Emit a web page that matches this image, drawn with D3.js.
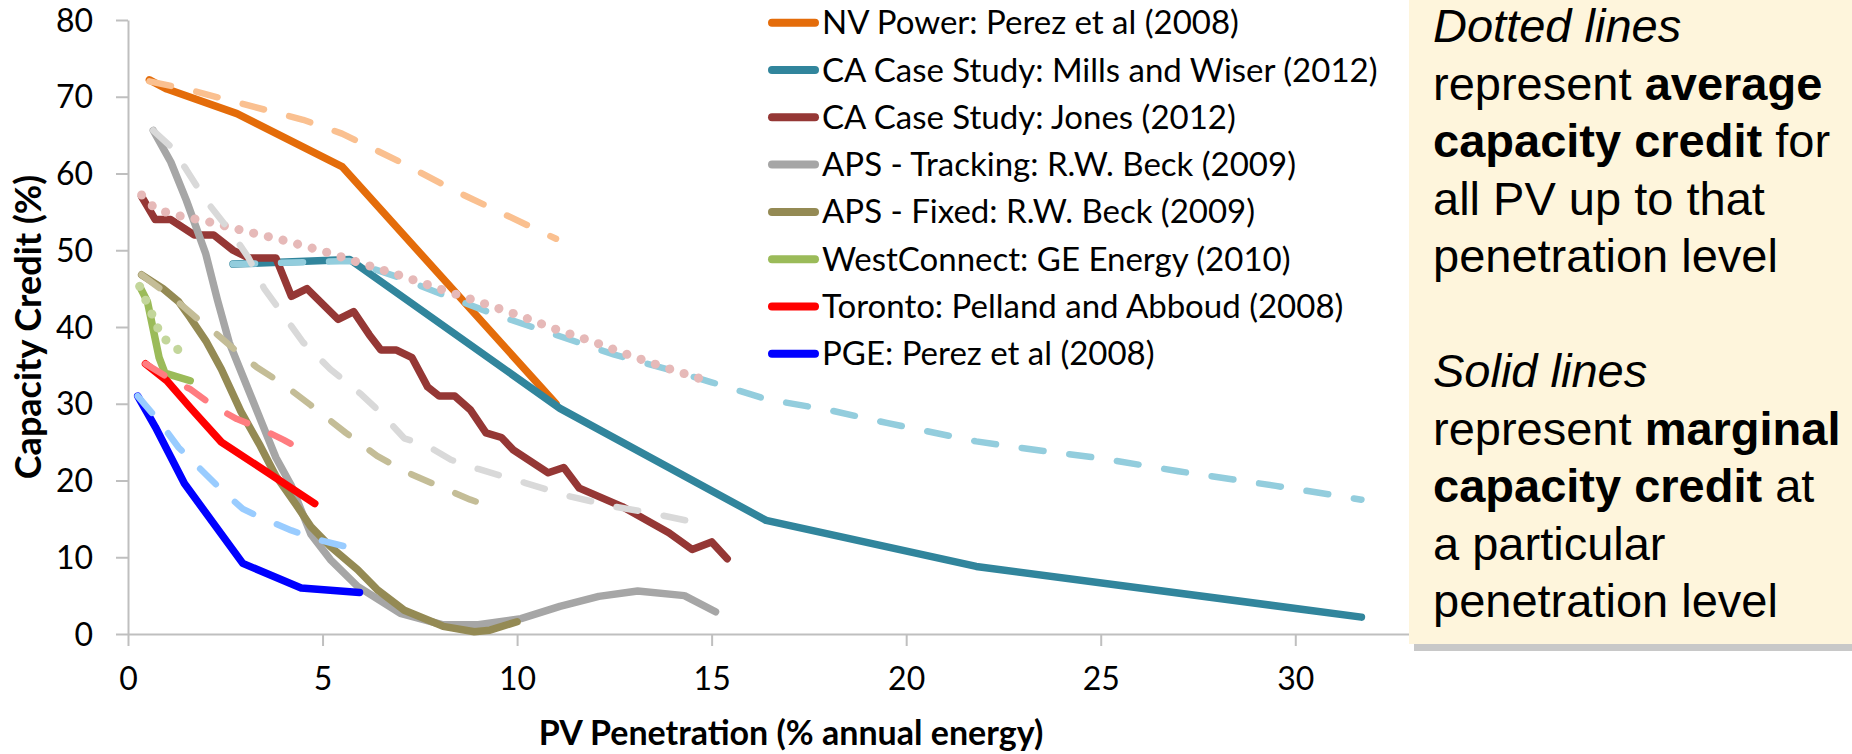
<!DOCTYPE html>
<html>
<head>
<meta charset="utf-8">
<style>
  body { margin: 0; background: #fff; }
  svg { display: block; }
  .tick text { font-family: Lato, "Open Sans", sans-serif; fill: #000; }
  .legend text { font-family: Lato, "Open Sans", sans-serif; fill: #000; }
  .note text { font-family: "Liberation Sans", Arial, sans-serif; fill: #000; }
</style>
</head>
<body>
<div id="chart"></div>
<script src="https://d3js.org/d3.v7.min.js"></script>
<script>
// axis ticks
const xTicks = [0, 5, 10, 15, 20, 25, 30];
const yTicks = [0, 10, 20, 30, 40, 50, 60, 70, 80];

// legend / series names (solid = marginal, dashed/dotted = average)
const names = [
  "NV Power: Perez et al (2008)",
  "CA Case Study: Mills and Wiser (2012)",
  "CA Case Study: Jones (2012)",
  "APS - Tracking: R.W. Beck (2009)",
  "APS - Fixed: R.W. Beck (2009)",
  "WestConnect: GE Energy (2010)",
  "Toronto: Pelland and Abboud (2008)",
  "PGE: Perez et al (2008)"
];
const solidColors = ["#E46C0A", "#31859C", "#953735", "#A6A6A6", "#948A54", "#9BBB59", "#FF0000", "#0000FF"];
const avgColors   = ["#FAC090", "#93CDDD", "#E6B9B8", "#D9D9D9", "#C4BD97", "#C3D69B", "#FF7C80", "#99CCFF"];
const avgStyle    = ["dash", "dash", "dot", "dash", "dash", "dot", "dash", "dash"];

// marginal capacity credit [penetration %, credit %]
const nvMarginal = [[0.55,72.2],[1,71],[2.8,67.8],[5.5,60.9],[11,30]];
const millsMarginal = [[2.7,48.2],[5.7,48.8],[11.1,29.4],[16.4,14.8],[21.8,8.8],[31.7,2.2]];
const jonesMarginal = [[0.35,57],[0.7,54],[1.1,54],[1.7,52],[2.2,52],[2.7,50],[3.1,49],[3.8,49],[4.2,44],[4.6,45],
  [5.4,41],[5.8,42],[6.2,39],[6.5,37],[6.9,37],[7.3,36],[7.7,32.2],[8,31],[8.4,31],[8.8,29.2],[9.2,26.2],[9.6,25.6],
  [9.9,24],[10.8,21],[11.2,21.7],[11.6,19],[12.7,16.6],[13.9,13.2],[14.5,11],[15,12],[15.4,9.8]];
const trackMarginal = [[0.65,65.6],[1.1,61.5],[1.5,56.5],[2,49.5],[2.3,43.5],[2.6,38],[3,33],[3.4,28],[3.8,23],[4.2,19.3],
  [4.7,13],[5.2,9.7],[5.9,6.2],[7,2.7],[8.1,1.2],[9,1.2],[10.1,2],[11.1,3.6],[12.1,4.9],[13.1,5.6],[14.3,5],[15.1,2.9]];
const fixedMarginal = [[0.35,46.8],[0.9,45],[1.3,43.3],[1.6,41.2],[2,38.2],[2.4,34.5],[2.9,29],[3.4,24.5],[3.8,20.6],
  [4.3,17],[4.7,14],[5.2,11.4],[5.9,8.4],[6.4,5.8],[7.1,3.1],[8.1,1],[8.9,0.3],[9.3,0.5],[10,1.6]];
const westMarginal = [[0.3,45.3],[0.5,43.3],[0.8,36],[0.95,34],[1.6,33]];
const torontoMarginal = [[0.45,35.2],[1,33],[1.6,29.5],[2.4,25],[4.8,17]];
const pgeMarginal = [[0.25,31],[0.7,27],[1.45,19.6],[2.95,9.2],[4.45,6],[5.95,5.4]];

// average capacity credit
const nvAverage = [[0.55,72],[1.5,71],[3,69],[4.5,67],[5.5,65.2],[7,61.5],[8.5,57.5],[11,51.5]];
const millsAverage = [[2.7,48.2],[5.7,48.6],[7,46.4],[8.3,43.8],[9.5,41.5],[11.1,38.8],[12.5,36.4],[14,34.3],[15,32.8],
  [16.4,30.6],[18,29.2],[19.5,27.5],[21.8,25.1],[23.3,24],[25,22.9],[27,21.2],[29.5,19.3],[31.7,17.5]];
const jonesAverage = [[0.35,57.2],[0.7,55.4],[1.2,54.6],[2,53.8],[3,52.5],[4,51.3],[5,49.9],[6,48.3],[7,46.7],[8,45],
  [9,43.3],[10,41.6],[11,39.7],[12,38],[13,36.1],[14,34.4],[15,32.8]];
const trackAverage = [[0.65,65.6],[1.1,63.5],[1.5,60.5],[2,56.5],[2.7,52],[3.1,49],[3.5,45],[4,41.5],[4.5,38],[5.2,34.5],
  [6,31.2],[6.5,28.8],[7.1,25.5],[7.7,24.5],[8.3,22.7],[9,21.5],[10.2,19.7],[11.3,18],[12.5,16.6],[13.4,15.8],[14.9,14.2]];
const fixedAverage = [[0.35,46.8],[0.8,45.1],[1.3,43.2],[1.8,41],[2.3,39],[2.8,36.8],[3.3,34.8],[4,32.5],[4.7,29.8],
  [5.6,26.2],[6.4,23.2],[7.2,21],[8.2,18.8],[8.8,17.5],[9.5,16.3]];
const westAverage = [[0.3,45.3],[0.5,43],[0.7,40.7],[0.85,38.8],[1.3,37]];
const torontoAverage = [[0.45,35.2],[1,33.5],[1.6,31.9],[2.2,29.7],[2.8,28],[3.4,26.8],[4,25.3],[4.6,23.6]];
const pgeAverage = [[0.25,31],[0.8,27.7],[1.3,24.3],[1.8,21.8],[2.4,18.8],[2.95,16.3],[3.4,15.2],[4.2,13.5],[4.8,12.4],[5.9,11]];

const marginal = [nvMarginal, millsMarginal, jonesMarginal, trackMarginal, fixedMarginal, westMarginal, torontoMarginal, pgeMarginal];
const average = [nvAverage, millsAverage, jonesAverage, trackAverage, fixedAverage, westAverage, torontoAverage, pgeAverage];

// callout text: each line is a list of [text, style]
const noteLines = [
  [["Dotted lines", "i"]],
  [["represent ", ""], ["average", "b"]],
  [["capacity credit", "b"], [" for", ""]],
  [["all PV up to that", ""]],
  [["penetration level", ""]],
  [],
  [["Solid lines", "i"]],
  [["represent ", ""], ["marginal", "b"]],
  [["capacity credit", "b"], [" at", ""]],
  [["a particular", ""]],
  [["penetration level", ""]]
];

const width = 1852, height = 754;
const axisColor = "#BFBFBF";

const x = d3.scaleLinear().domain([0, 33]).range([128, 1412]);
const y = d3.scaleLinear().domain([0, 80]).range([634, 20]);

const svg = d3.select("#chart").append("svg")
  .attr("width", width)
  .attr("height", height);

// axes
const xAxis = svg.append("g")
  .attr("transform", `translate(0,${y(0)})`)
  .call(d3.axisBottom(x).tickValues(xTicks).tickSize(12).tickSizeOuter(0).tickPadding(21));
const yAxis = svg.append("g")
  .attr("transform", `translate(${x(0)},0)`)
  .call(d3.axisLeft(y).tickValues(yTicks).tickSize(12).tickSizeOuter(0).tickPadding(23));
[xAxis, yAxis].forEach(g => {
  g.select(".domain").attr("stroke", axisColor).attr("stroke-width", 2);
  g.selectAll(".tick line").attr("stroke", axisColor).attr("stroke-width", 2);
  g.selectAll(".tick text").attr("font-size", 32).attr("font-family", null);
});
yAxis.selectAll(".tick text").attr("dy", "0.35em");

svg.append("text")
  .attr("x", 791).attr("y", 745)
  .attr("text-anchor", "middle")
  .attr("font-family", "Lato, sans-serif")
  .attr("font-weight", "bold")
  .attr("font-size", 34)
  .text("PV Penetration (% annual energy)");

svg.append("text")
  .attr("transform", `translate(41,${(y(0) + y(80)) / 2}) rotate(-90)`)
  .attr("text-anchor", "middle")
  .attr("font-family", "Lato, sans-serif")
  .attr("font-weight", "bold")
  .attr("font-size", 36)
  .text("Capacity Credit (%)");

const line = d3.line().x(d => x(d[0])).y(d => y(d[1]));

// solid marginal lines
svg.append("g")
  .selectAll("path")
  .data(marginal)
  .join("path")
    .attr("d", line)
    .attr("fill", "none")
    .attr("stroke", (d, i) => solidColors[i])
    .attr("stroke-width", 7.5)
    .attr("stroke-linejoin", "round")
    .attr("stroke-linecap", "round");

// dashed / dotted average lines
svg.append("g")
  .selectAll("path")
  .data(average)
  .join("path")
    .attr("d", line)
    .attr("fill", "none")
    .attr("stroke", (d, i) => avgColors[i])
    .attr("stroke-width", (d, i) => avgStyle[i] === "dot" ? 9 : 6.5)
    .attr("stroke-dasharray", (d, i) => avgStyle[i] === "dot" ? "0.1 15" : "22 26")
    .attr("stroke-linejoin", "round")
    .attr("stroke-linecap", "round");

// legend
const legend = svg.append("g").attr("class", "legend");
const row = legend.selectAll("g")
  .data(names)
  .join("g")
    .attr("transform", (d, i) => `translate(768,${22.7 + i * 47.3})`);
row.append("line")
  .attr("x1", 4).attr("x2", 47)
  .attr("stroke", (d, i) => solidColors[i])
  .attr("stroke-width", 8)
  .attr("stroke-linecap", "round");
row.append("text")
  .attr("x", 54)
  .attr("dy", "0.35em")
  .attr("font-size", 33)
  .text(d => d);

// callout box
const note = svg.append("g").attr("class", "note");
note.append("rect")
  .attr("x", 1414).attr("y", 0)
  .attr("width", 460).attr("height", 651)
  .attr("fill", "#C8C8C8");
note.append("rect")
  .attr("x", 1409).attr("y", -2)
  .attr("width", 460).attr("height", 646)
  .attr("fill", "#FEF5DC");
const noteText = note.append("text")
  .attr("font-size", 47);
noteLines.forEach((parts, i) => {
  parts.forEach((p, j) => {
    const t = noteText.append("tspan").text(p[0]);
    if (j === 0) t.attr("x", 1433).attr("y", 42 + i * 57.5);
    if (p[1] === "b") t.attr("font-weight", "bold");
    if (p[1] === "i") t.attr("font-style", "italic");
  });
});
</script>
</body>
</html>
